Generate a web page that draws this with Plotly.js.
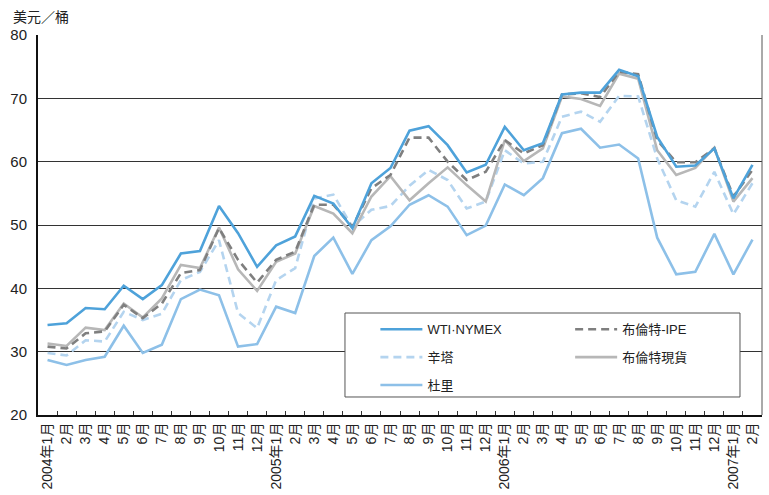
<!DOCTYPE html>
<html>
<head>
<meta charset="utf-8">
<script src="https://cdn.plot.ly/plotly-3.0.1.min.js"></script>
<style>html,body{margin:0;padding:0;background:#fff}#chart{width:769px;height:495px}</style>
</head>
<body>
<div id="chart"></div>
<script>
var months = ["2004-01","2004-02","2004-03","2004-04","2004-05","2004-06","2004-07","2004-08","2004-09","2004-10","2004-11","2004-12",
  "2005-01","2005-02","2005-03","2005-04","2005-05","2005-06","2005-07","2005-08","2005-09","2005-10","2005-11","2005-12",
  "2006-01","2006-02","2006-03","2006-04","2006-05","2006-06","2006-07","2006-08","2006-09","2006-10","2006-11","2006-12",
  "2007-01","2007-02"];
var tickLabels = ["2004年1月","2月","3月","4月","5月","6月","7月","8月","9月","10月","11月","12月",
  "2005年1月","2月","3月","4月","5月","6月","7月","8月","9月","10月","11月","12月",
  "2006年1月","2月","3月","4月","5月","6月","7月","8月","9月","10月","11月","12月",
  "2007年1月","2月"];
var wti = [34.2,34.5,36.9,36.7,40.4,38.3,40.5,45.5,45.9,53.0,48.7,43.4,
  46.8,48.2,54.6,53.4,49.5,56.6,59.0,64.9,65.6,62.6,58.3,59.5,
  65.5,61.8,62.9,70.6,70.9,70.9,74.5,73.5,63.9,59.2,59.4,62.1,
  54.2,59.5];
var brentIPE = [30.8,30.5,32.9,33.2,37.4,35.3,37.6,42.4,42.9,49.5,44.5,40.9,
  44.5,45.8,53.2,53.2,49.7,55.8,57.9,63.8,63.8,60.0,57.1,58.4,
  63.4,61.3,62.6,70.6,70.8,70.2,74.2,73.8,63.4,59.9,59.9,62.1,
  54.5,58.7];
var tapis = [29.8,29.4,31.8,31.6,36.3,35.0,36.0,41.3,42.6,47.6,36.1,33.7,
  41.3,43.2,54.2,54.8,49.7,52.4,53.0,56.2,58.7,57.1,52.6,53.7,
  61.8,59.7,60.0,67.1,67.9,66.3,70.4,70.3,60.5,53.9,52.9,58.4,
  51.7,56.6];
var brentSpot = [31.3,30.9,33.8,33.4,37.6,35.4,38.4,43.7,43.2,49.6,43.0,39.6,
  44.2,45.5,53.0,51.8,48.7,54.5,57.7,53.9,56.6,59.1,56.3,53.7,
  63.4,60.1,62.1,70.3,69.9,68.8,73.9,73.1,61.8,57.9,59.0,62.2,
  53.7,57.4];
var dubai = [28.7,27.9,28.7,29.2,34.1,29.8,31.1,38.3,39.8,38.9,30.8,31.2,
  37.1,36.1,45.1,48.0,42.3,47.6,49.8,53.2,54.7,52.9,48.4,49.9,
  56.4,54.7,57.4,64.5,65.2,62.2,62.7,60.5,48.0,42.2,42.6,48.6,
  42.2,47.7];

var FONT = '"Liberation Sans", Arial, "Noto Sans CJK TC", sans-serif';
function tr(name, y, color, dash, legend, rank) {
  return {type:'scatter', mode:'lines', name:name, x:months, y:y,
    line:{color:color, width:2.6, dash:dash}, legend:legend, legendgroup:'g'+rank+legend, legendrank:rank, hoverinfo:'skip'};
}
var data = [
  tr('杜里', dubai, '#8dc0e8', 'solid', 'legend', 3),
  tr('辛塔', tapis, '#b4d4ef', '8px,5px', 'legend', 2),
  tr('布倫特現貨', brentSpot, '#b7b7b7', 'solid', 'legend2', 2),
  tr('布倫特-IPE', brentIPE, '#7f7f7f', '8px,5px', 'legend2', 1),
  tr('WTI·NYMEX', wti, '#4ea2da', 'solid', 'legend', 1)
];
var legendCommon = {orientation:'v', bgcolor:'rgba(0,0,0,0)', borderwidth:0, itemwidth:42,
  font:{family:FONT, size:13, color:'#222'}, tracegroupgap:8, xanchor:'left', yanchor:'top', traceorder:'grouped'};
var layout = {
  width:769, height:495,
  margin:{l:38, r:7, t:35, b:80},
  paper_bgcolor:'#fff', plot_bgcolor:'#fff',
  font:{family:FONT, color:'#222', size:14},
  showlegend:true,
  xaxis:{type:'category', tickmode:'array', tickvals:months, ticktext:tickLabels,
    tickangle:-90, tickson:'boundaries', ticks:'inside', ticklen:4, tickcolor:'#333',
    showgrid:false, showline:true, linecolor:'#111', linewidth:2,
    tickfont:{family:FONT, size:14, color:'#222'}, range:[-0.5, 37.5], fixedrange:true},
  yaxis:{range:[20,80], dtick:10, tick0:20, showgrid:true, gridcolor:'#333', gridwidth:1,
    showline:true, linecolor:'#111', linewidth:2, zeroline:false, ticks:'', ticklabelstandoff:6,
    tickfont:{family:FONT, size:15, color:'#222'}, fixedrange:true},
  legend: Object.assign({}, legendCommon, {x:0.466, y:0.265}),
  legend2: Object.assign({}, legendCommon, {x:0.735, y:0.265}),
  shapes:[
    {type:'line', xref:'paper', yref:'paper', x0:1, x1:1, y0:0, y1:1, line:{color:'#555', width:1}},
    {type:'rect', xref:'paper', yref:'paper', x0:0.424, x1:0.9696, y0:0.0474, y1:0.2684,
      line:{color:'#555', width:1}, fillcolor:'#fff', layer:'above'}
  ],
  annotations:[
    {text:'美元／桶', xref:'paper', yref:'paper', x:-0.037, y:1+(35-17)/380, xanchor:'left', yanchor:'middle',
      showarrow:false, font:{family:FONT, size:14, color:'#222'}}
  ]
};
Plotly.newPlot('chart', data, layout, {displayModeBar:false, staticPlot:true});
</script>
</body>
</html>
